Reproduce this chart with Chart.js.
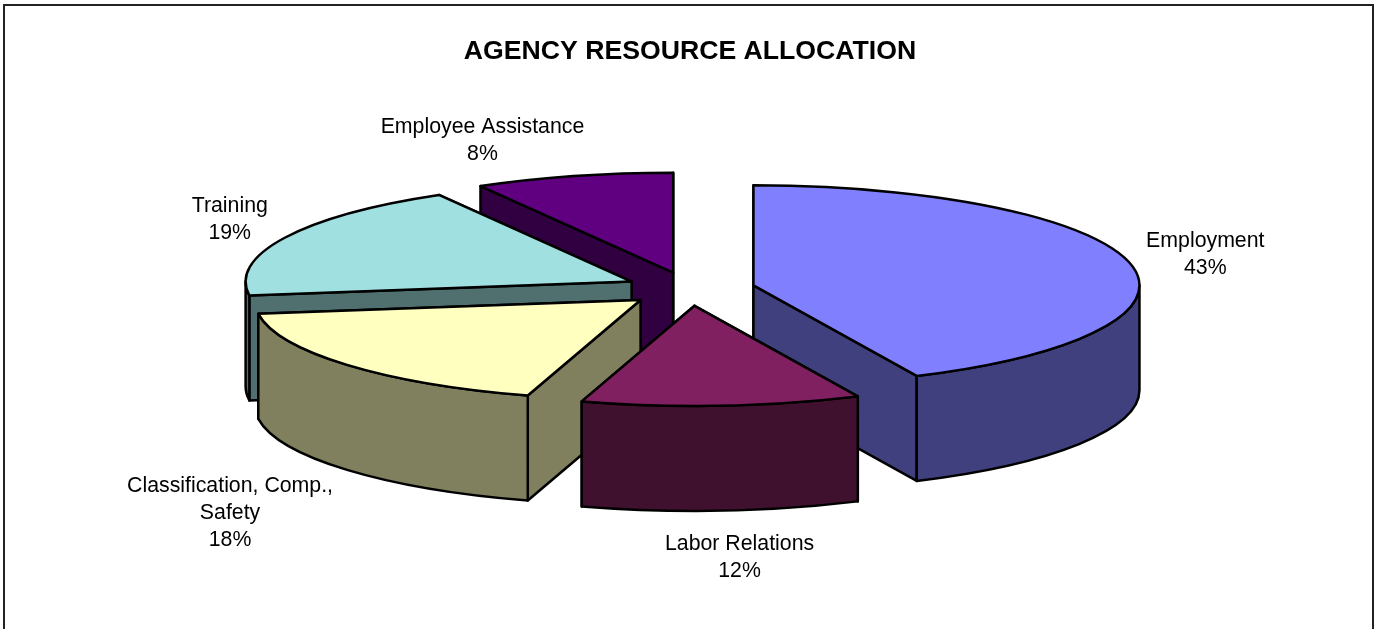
<!DOCTYPE html>
<html>
<head>
<meta charset="utf-8">
<title>Agency Resource Allocation</title>
<script src="https://cdn.jsdelivr.net/npm/chart.js@4"></script>
<style>
  html, body { margin: 0; padding: 0; background: #fff; overflow: hidden; }
  #wrap { position: absolute; left: 0; top: 0; width: 1377px; height: 629px; }
</style>
</head>
<body>
<div id="wrap"><canvas id="Chart_allocation"></canvas></div>
<script>
// chart data
const categories = ["Employment", "Labor Relations", ["Classification, Comp.,", "Safety"], "Training", "Employee Assistance"];
const values = [43.05, 11.67, 18.06, 18.9, 8.32];
const topColors = ["#8080FF", "#802060", "#FFFFC0", "#A0E0E0", "#600080"];
const sideColors = ["#40407F", "#40102F", "#80805F", "#507070", "#300040"];

// fake 3D settings
const SQUASH = 0.259;
const DEPTH = 105;
const EXPLODE = 65;
const RADIUS = 386;
const LINE = 2.5;
// label centre relative to the slice's outer midpoint
const labelNudge = [[75, -9], [18, 47], [-117, 43], [-55, -18], [-91, -36]];
const labelOnWall = [false, true, true, false, false];

function sliceGeometry(arc) {
  const half = (arc.startAngle + arc.endAngle) / 2;
  const cx = arc.x + Math.cos(half) * EXPLODE;
  const cy = arc.y + Math.sin(half) * EXPLODE;
  return { cx, cy, r: arc.outerRadius, s: arc.startAngle, e: arc.endAngle, mid: half };
}

function squashY(y, centerY) {
  return centerY + (y - centerY) * SQUASH;
}

function radialWall(ctx, g, angle, centerY) {
  const x0 = g.cx, y0 = squashY(g.cy, centerY);
  const x1 = g.cx + Math.cos(angle) * g.r;
  const y1 = squashY(g.cy + Math.sin(angle) * g.r, centerY);
  ctx.beginPath();
  ctx.moveTo(x0, y0);
  ctx.lineTo(x1, y1);
  ctx.lineTo(x1, y1 + DEPTH);
  ctx.lineTo(x0, y0 + DEPTH);
  ctx.closePath();
  ctx.fill();
  ctx.stroke();
}

function outerWall(ctx, g, centerY) {
  // only the part facing the viewer, canvas angles 0..PI
  const a0 = Math.max(g.s, 0), a1 = Math.min(g.e, Math.PI);
  if (a1 <= a0) return;
  const y0 = squashY(g.cy, centerY);
  const ry = g.r * SQUASH;
  ctx.beginPath();
  ctx.ellipse(g.cx, y0, g.r, ry, 0, a0, a1);
  ctx.ellipse(g.cx, y0 + DEPTH, g.r, ry, 0, a1, a0, true);
  ctx.closePath();
  ctx.fill();
  ctx.stroke();
}

function topOutline(ctx, g, centerY) {
  const y0 = squashY(g.cy, centerY);
  ctx.beginPath();
  ctx.moveTo(g.cx, y0);
  ctx.ellipse(g.cx, y0, g.r, g.r * SQUASH, 0, g.s, g.e);
  ctx.closePath();
  ctx.stroke();
}

const pie3d = {
  id: "pie3d",
  beforeDraw(chart) {
    // frame of the original chart area, it runs off the bottom of the page
    const ctx = chart.ctx;
    ctx.save();
    ctx.strokeStyle = "#222";
    ctx.lineWidth = 2;
    ctx.beginPath();
    ctx.moveTo(4, chart.height + 2);
    ctx.lineTo(4, 5);
    ctx.lineTo(1373, 5);
    ctx.lineTo(1373, chart.height + 2);
    ctx.stroke();
    ctx.restore();
  },
  beforeDatasetDraw(chart, args) {
    const ctx = chart.ctx;
    const arcs = args.meta.data;
    const centerY = arcs[0].y;
    // back to front
    const order = arcs.map((a, i) => i).sort((a, b) =>
      Math.sin((arcs[a].startAngle + arcs[a].endAngle) / 2) - Math.sin((arcs[b].startAngle + arcs[b].endAngle) / 2));

    order.forEach(i => {
      const arc = arcs[i];
      const g = sliceGeometry(arc);
      ctx.save();
      ctx.lineWidth = LINE;
      ctx.lineJoin = "round";
      ctx.strokeStyle = "#000";
      ctx.fillStyle = sideColors[i];
      const walls = [g.s, g.e].sort((a, b) => Math.sin(a) - Math.sin(b));
      walls.forEach(w => radialWall(ctx, g, w, centerY));
      outerWall(ctx, g, centerY);
      ctx.restore();

      // top face, drawn by the arc element itself
      ctx.save();
      ctx.translate(0, centerY);
      ctx.scale(1, SQUASH);
      ctx.translate(0, -centerY);
      ctx.translate(Math.cos(g.mid) * EXPLODE, Math.sin(g.mid) * EXPLODE);
      arc.draw(ctx);
      ctx.restore();

      ctx.save();
      ctx.lineWidth = LINE;
      ctx.lineJoin = "round";
      ctx.strokeStyle = "#000";
      topOutline(ctx, g, centerY);
      ctx.restore();
    });
    return false;
  },
  afterDraw(chart) {
    const ctx = chart.ctx;
    const arcs = chart.getDatasetMeta(0).data;
    const centerY = arcs[0].y;
    const total = values.reduce((a, b) => a + b, 0);
    ctx.save();
    ctx.font = "21.3px 'Liberation Sans', Arial, sans-serif";
    ctx.fillStyle = "#000";
    ctx.textAlign = "center";
    ctx.textBaseline = "middle";
    arcs.forEach((arc, i) => {
      const g = sliceGeometry(arc);
      const px = g.cx + Math.cos(g.mid) * g.r;
      const py = squashY(g.cy + Math.sin(g.mid) * g.r, centerY) + (labelOnWall[i] ? DEPTH : 0);
      const lines = [].concat(categories[i], Math.round(values[i] / total * 100) + "%");
      const x = px + labelNudge[i][0];
      const y = py + labelNudge[i][1];
      lines.forEach((line, n) => {
        ctx.fillText(line, x, y + (n - (lines.length - 1) / 2) * 27);
      });
    });
    ctx.restore();
  }
};

const ctx1 = document.getElementById("Chart_allocation").getContext("2d");
const Chart_allocation = new Chart(ctx1, {
  type: "pie",
  data: {
    labels: categories,
    datasets: [
      {
        data: values,
        backgroundColor: topColors,
        borderWidth: 0,
      },
    ],
  },
  options: {
    responsive: true,
    maintainAspectRatio: false,
    animation: false,
    radius: RADIUS,
    layout: { padding: { left: 3, right: 0, top: 0, bottom: 119 } },
    plugins: {
      legend: { display: false },
      tooltip: { enabled: false },
      title: {
        display: true,
        text: "AGENCY RESOURCE ALLOCATION",
        color: "#000",
        font: { family: "'Liberation Sans', Arial, sans-serif", size: 26.65, weight: "bold" },
        padding: { top: 36, bottom: 0 },
      },
    },
  },
  plugins: [pie3d],
});
</script>
</body>
</html>
